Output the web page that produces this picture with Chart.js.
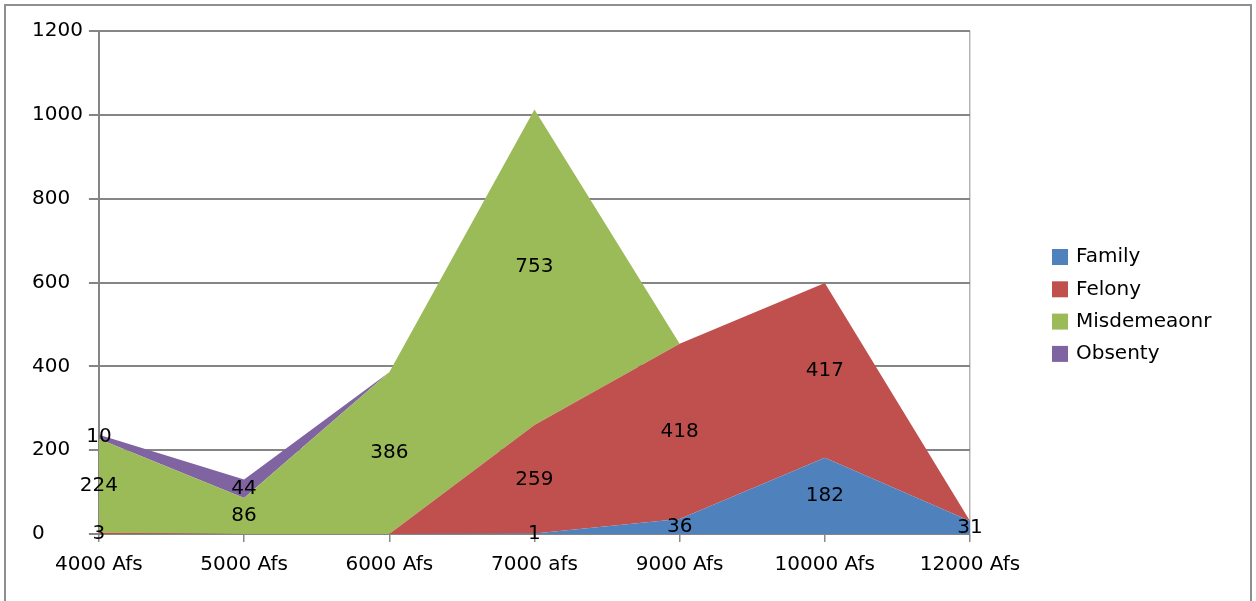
<!DOCTYPE html>
<html lang="en">
<head>
  <meta charset="UTF-8">
  <title>Cases by fine amount</title>
  <script src="https://cdn.jsdelivr.net/npm/chart.js"></script>
  <style>
    html, body { margin: 0; padding: 0; background: #fff; }
    canvas { display: block; }
  </style>
</head>
<body>
<canvas id="areaChart" width="1256" height="601"></canvas>
<script>
  // fine categories and values per offence type (stacked)
  const categories = ['4000 Afs', '5000 Afs', '6000 Afs', '7000 afs', '9000 Afs', '10000 Afs', '12000 Afs'];
  const family      = [0, 0, 0, 1, 36, 182, 31];
  const felony      = [3, 0, 0, 259, 418, 417, 0];
  const misdemeanor = [224, 86, 386, 753, 0, 0, 0];
  const obsenty     = [10, 44, 0, 0, 0, 0, 0];
  const yTicks = [0, 200, 400, 600, 800, 1000, 1200];

  const FONT = 'DejaVu Sans';

  function series(label, data, color, fill) {
    return {
      label: label,
      data: data,
      backgroundColor: color,
      borderColor: color,
      borderWidth: 0,
      pointRadius: 0,
      tension: 0,
      fill: fill
    };
  }

  // white background + outer frame
  const frame = {
    id: 'frame',
    beforeDraw(chart) {
      const ctx = chart.ctx;
      ctx.save();
      ctx.fillStyle = '#fff';
      ctx.fillRect(0, 0, chart.width, chart.height);
      ctx.strokeStyle = '#8f8f8f';
      ctx.lineWidth = 2;
      ctx.strokeRect(5, 5, 1246, 610);
      ctx.restore();
    }
  };

  // value labels in the middle of each band
  const bandLabels = {
    id: 'bandLabels',
    afterDraw(chart) {
      const ctx = chart.ctx;
      const y = chart.scales.y;
      const sets = chart.data.datasets;
      ctx.save();
      ctx.font = '20px "' + FONT + '"';
      ctx.fillStyle = '#000';
      ctx.textAlign = 'center';
      ctx.textBaseline = 'middle';
      sets.forEach((ds, di) => {
        const meta = chart.getDatasetMeta(di);
        ds.data.forEach((v, i) => {
          if (!v) return;
          let base = 0;
          for (let k = 0; k < di; k++) base += sets[k].data[i];
          ctx.fillText(String(v), meta.data[i].x, y.getPixelForValue(base + v / 2));
        });
      });
      ctx.restore();
    }
  };

  // legend on the right
  const sideLegend = {
    id: 'sideLegend',
    afterDraw(chart) {
      const ctx = chart.ctx;
      ctx.save();
      ctx.font = '20px "' + FONT + '"';
      ctx.textBaseline = 'middle';
      chart.data.datasets.forEach((ds, i) => {
        const cy = 257 + i * 32.3;
        ctx.fillStyle = ds.backgroundColor;
        ctx.fillRect(1052, cy - 8, 16, 16);
        ctx.fillStyle = '#000';
        ctx.fillText(ds.label, 1076, cy);
      });
      ctx.restore();
    }
  };

  new Chart(document.getElementById('areaChart'), {
    type: 'line',
    data: {
      labels: categories,
      datasets: [
        series('Family', family, '#4F81BD', 'origin'),
        series('Felony', felony, '#C0504D', '-1'),
        series('Misdemeaonr', misdemeanor, '#9BBB59', '-1'),
        series('Obsenty', obsenty, '#8064A2', '-1')
      ]
    },
    options: {
      responsive: false,
      animation: false,
      layout: { padding: { left: 32, top: 31, right: 286, bottom: 13 } },
      plugins: {
        legend: { display: false },
        tooltip: { enabled: false }
      },
      scales: {
        x: {
          offset: false,
          grid: {
            color: (c) => c.index === categories.length - 1 ? '#b5b5b5' : 'rgba(0,0,0,0)',
            tickColor: '#8a8a8a',
            tickLength: 8,
            lineWidth: 1.5
          },
          border: { display: false },
          ticks: {
            color: '#000',
            padding: 11,
            maxRotation: 0,
            autoSkip: false,
            font: { family: FONT, size: 20 }
          }
        },
        y: {
          stacked: true,
          min: 0,
          max: 1200,
          afterBuildTicks: (axis) => { axis.ticks = yTicks.map(v => ({ value: v })); },
          grid: {
            color: '#858585',
            lineWidth: 2,
            tickLength: 10
          },
          border: { color: '#858585', width: 2 },
          ticks: {
            color: '#000',
            padding: 3,
            crossAlign: 'far',
            callback: (v) => String(v),
            font: { family: FONT, size: 20 }
          }
        }
      }
    },
    plugins: [frame, bandLabels, sideLegend]
  });
</script>
</body>
</html>
